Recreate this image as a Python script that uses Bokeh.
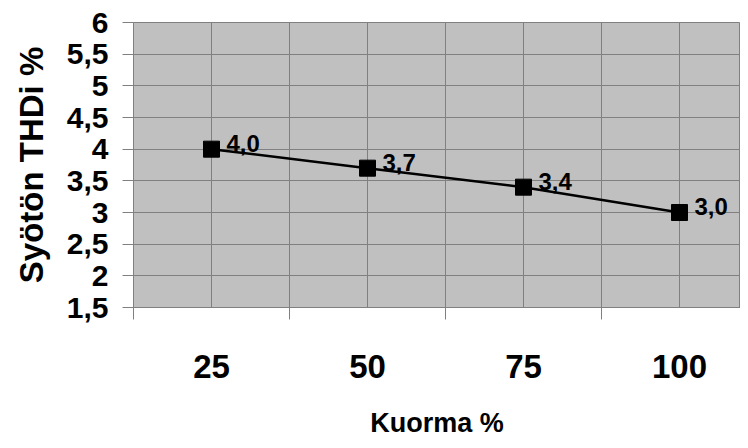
from bokeh.plotting import figure
from bokeh.models import Range1d, FixedTicker, ColumnDataSource
from bokeh.core.properties import value
from bokeh.embed import file_html
from bokeh.resources import INLINE

categories = ["25", "50", "75", "100"]
thdi = [4.0, 3.7, 3.4, 3.0]
y_ticks = [1.5, 2.0, 2.5, 3.0, 3.5, 4.0, 4.5, 5.0, 5.5, 6.0]

def fi(v):
    s = f"{v:g}"
    return s.replace(".", ",")

xs = [i + 0.5 for i in range(len(categories))]
labels = [f"{v:.1f}".replace(".", ",") for v in thdi]
src = ColumnDataSource(dict(x=xs, y=thdi, lab=labels))

FONT = "Liberation Sans"

p = figure(width=740, height=440, output_backend="svg", toolbar_location=None,
           x_range=Range1d(0, 3.891), y_range=Range1d(1.5, 6.0),
           min_border_left=133, min_border_right=0, min_border_top=22,
           min_border_bottom=130)
p.background_fill_color = "#c0c0c0"
p.border_fill_color = "white"
p.outline_line_color = "#808080"
p.outline_line_width = 1

# x axis: labels at category centres, tick marks at boundaries
p.xaxis.ticker = FixedTicker(ticks=xs, minor_ticks=list(range(len(categories))))
p.xaxis.major_label_overrides = {x: c for x, c in zip(xs, categories)}
p.xaxis.major_tick_out = 0
p.xaxis.major_tick_in = 0
p.xaxis.minor_tick_out = 12
p.xaxis.minor_tick_in = 0
p.xaxis.minor_tick_line_color = "#808080"
p.xaxis.axis_line_color = "#808080"
p.xaxis.major_label_text_font = FONT
p.xaxis.major_label_text_font_style = "bold"
p.xaxis.major_label_text_font_size = "33px"
p.xaxis.major_label_text_color = "black"
p.xaxis.major_label_standoff = 35
p.xaxis.axis_label = "Kuorma %"
p.xaxis.axis_label_text_font = FONT
p.xaxis.axis_label_text_font_style = "bold"
p.xaxis.axis_label_text_font_size = "27px"
p.xaxis.axis_label_text_color = "black"
p.xaxis.axis_label_standoff = 27

# y axis
p.yaxis.ticker = FixedTicker(ticks=y_ticks, minor_ticks=[])
p.yaxis.major_label_overrides = {t: fi(t) for t in y_ticks}
p.yaxis.major_tick_out = 11
p.yaxis.major_tick_in = 0
p.yaxis.major_tick_line_color = "#808080"
p.yaxis.axis_line_color = "#808080"
p.yaxis.major_label_text_font = FONT
p.yaxis.major_label_text_font_style = "bold"
p.yaxis.major_label_text_font_size = "30px"
p.yaxis.major_label_text_color = "black"
p.yaxis.major_label_standoff = 14
p.yaxis.axis_label = "Syötön THDi %"
p.yaxis.axis_label_text_font = FONT
p.yaxis.axis_label_text_font_style = "bold"
p.yaxis.axis_label_text_font_size = "33px"
p.yaxis.axis_label_text_color = "black"
p.yaxis.axis_label_standoff = 14

# grids
p.xgrid.grid_line_color = "#808080"
p.xgrid.minor_grid_line_color = "#808080"
p.xgrid.grid_line_width = 1
p.xgrid.minor_grid_line_width = 1
p.ygrid.grid_line_color = "#808080"
p.ygrid.grid_line_width = 1

p.line("x", "y", source=src, line_color="black", line_width=2.5)
p.scatter("x", "y", source=src, marker="square", size=16,
          fill_color="black", line_color="black")
p.text("x", "y", text="lab", source=src, x_offset=15, y_offset=-6,
       text_font=value(FONT), text_font_style="bold", text_font_size="24px",
       text_baseline="middle", text_align="left", text_color="black")

open("out.html", "w").write(file_html(p, INLINE))
